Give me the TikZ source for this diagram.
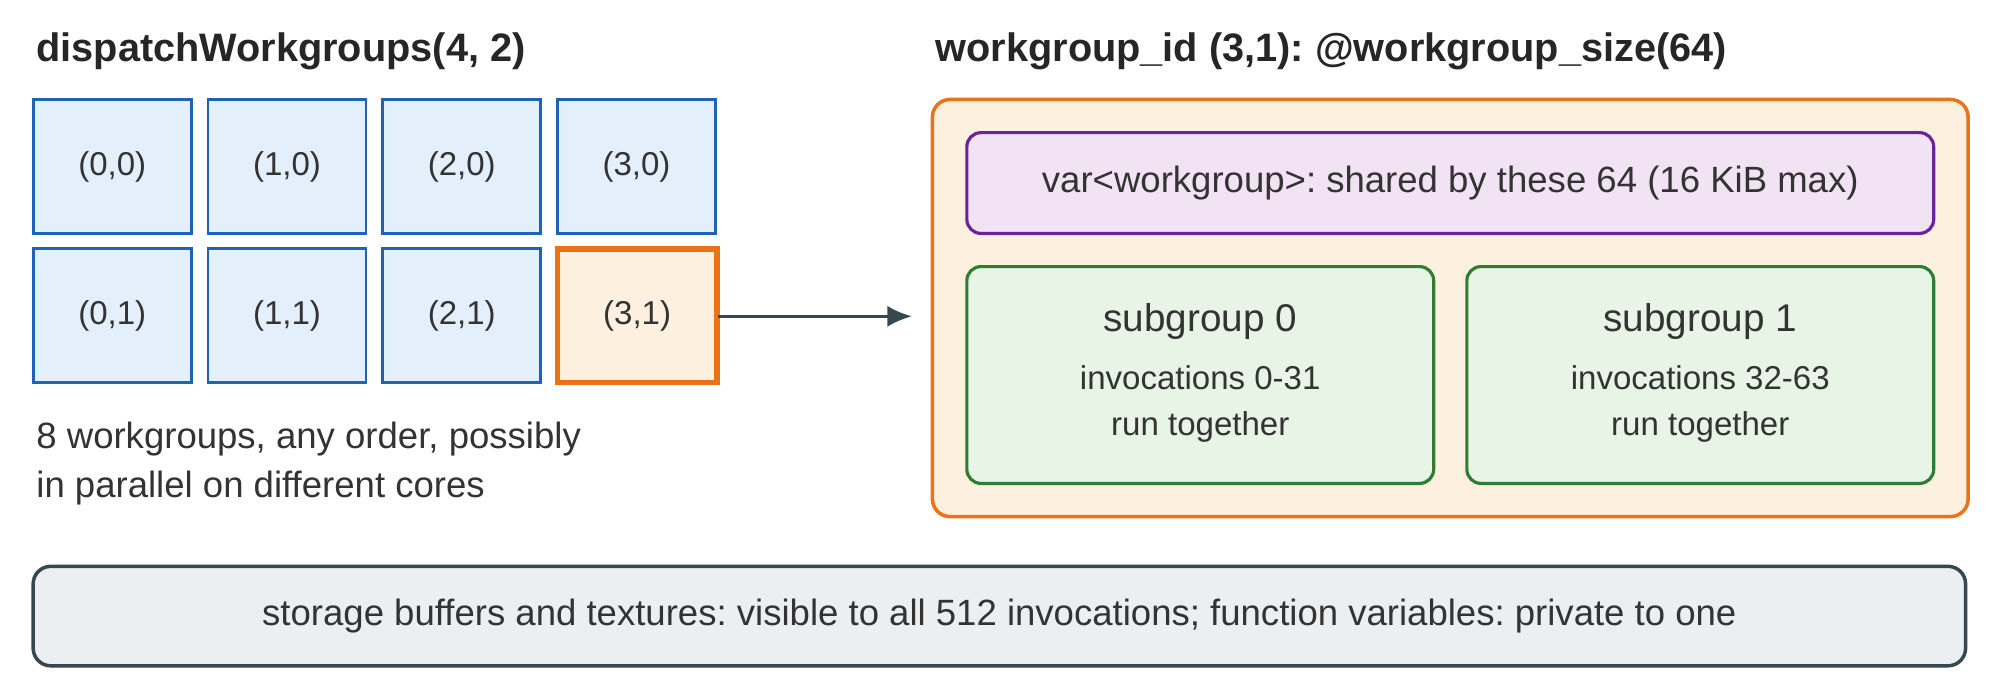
\documentclass[tikz,border=0pt]{standalone}
\usepackage{fontspec}
\setmainfont{Liberation Sans}
\usetikzlibrary{arrows.meta}
\frenchspacing
\begin{document}
\frenchspacing
\begin{tikzpicture}[x=0.012755cm,y=-0.012755cm,
 txt/.style={text=black!80,font=\fontsize{10.4}{12}\selectfont},
 stxt/.style={text=black!80,font=\fontsize{9.4}{11}\selectfont},
 ttl/.style={text=black!85,font=\bfseries\fontsize{11.3}{13}\selectfont,anchor=west,inner sep=0pt}]
\definecolor{cellf}{HTML}{E3F0FC}\definecolor{celld}{HTML}{1E63B5}
\definecolor{orf}{HTML}{FEF0DF}\definecolor{ord}{HTML}{EA7317}
\definecolor{puf}{HTML}{F2E3F4}\definecolor{pud}{HTML}{6B2397}
\definecolor{grf}{HTML}{E7F4E6}\definecolor{grd}{HTML}{2E7D32}
\definecolor{gyf}{HTML}{ECEFF1}\definecolor{gyd}{HTML}{37474F}
\useasboundingbox (0,0) rectangle (1568,548);
\node[ttl] (t1) at (28,40) {dispatchWorkgroups(4, 2)};
\node[ttl] (t2) at (733,40) {workgroup\_id (3,1): @workgroup\_size(64)};
\foreach \c/\x in {0/26,1/163,2/300,3/437}{
 \draw[draw=celld,fill=cellf,line width=0.8pt] (\x,78) rectangle node[stxt] (c\c0) {(\c,0)} ++(124,105);
}
\foreach \c/\x in {0/26,1/163,2/300}{
 \draw[draw=celld,fill=cellf,line width=0.8pt] (\x,195) rectangle node[stxt] (c\c1) {(\c,1)} ++(124,105);
}
\draw[draw=ord,fill=orf,line width=1.6pt] (437,195) rectangle node[stxt] (c31) {(3,1)} ++(125,105);
\coordinate (ae) at (563,248);
\coordinate (ah) at (715,248);
\draw[gyd,line width=0.9pt,-{Latex[length=7pt,width=6pt]}] (ae) -- (ah);
\node[txt,anchor=north west,align=left,inner sep=0pt] (note) at (28,330) {8 workgroups, any order, possibly\\[2pt]in parallel on different cores};
\draw[draw=ord,fill=orf,line width=1pt,rounded corners=5pt] (731,78) rectangle (1543,405);
\draw[draw=pud,fill=puf,line width=0.9pt,rounded corners=4pt] (758,104) rectangle node[txt] (sh) {var<workgroup>: shared by these 64 (16 KiB max)} (1516,183);
\draw[draw=grd,fill=grf,line width=0.9pt,rounded corners=4pt] (758,209) rectangle (1124,379);
\draw[draw=grd,fill=grf,line width=0.9pt,rounded corners=4pt] (1150,209) rectangle (1516,379);
\node[txt,font=\fontsize{11}{13}\selectfont] (s0) at (941,252) {subgroup 0};
\node[stxt] (i0) at (941,296) {invocations 0-31};
\node[stxt] (r0) at (941,335) {run together};
\node[txt,font=\fontsize{11}{13}\selectfont] (s1) at (1333,252) {subgroup 1};
\node[stxt] (i1) at (1333,296) {invocations 32-63};
\node[stxt] (r1) at (1333,335) {run together};
\draw[draw=gyd,fill=gyf,line width=1pt,rounded corners=5pt] (26,444) rectangle node[txt] (bot) {storage buffers and textures: visible to all 512 invocations; function variables: private to one} (1541,522);
\end{tikzpicture}
\end{document}
